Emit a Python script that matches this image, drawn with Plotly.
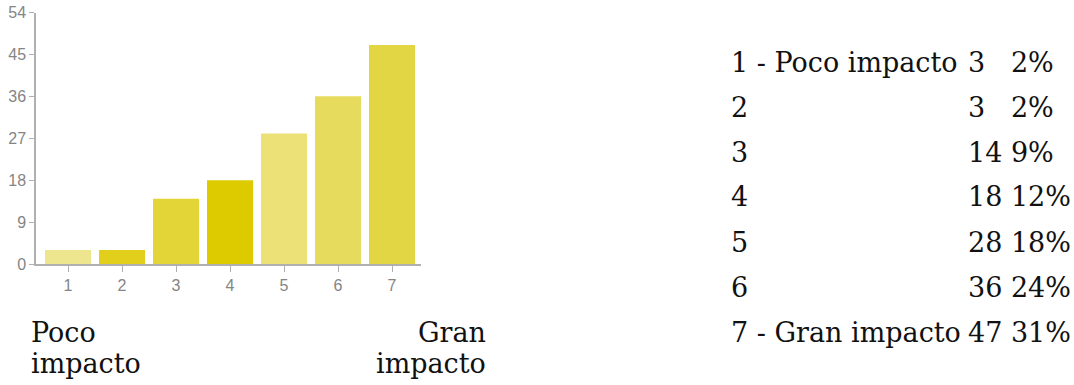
import plotly.graph_objects as go

# Survey responses on a 1-7 impact scale
categories = ["1", "2", "3", "4", "5", "6", "7"]
counts = [3, 3, 14, 18, 28, 36, 47]
percents = ["2%", "2%", "9%", "12%", "18%", "24%", "31%"]
row_labels = ["1 - Poco impacto", "2", "3", "4", "5", "6", "7 - Gran impacto"]
bar_colors = ["#EEE68F", "#E1CF1B", "#E3D538", "#DDCB00", "#EBE176", "#E6DB5C", "#E3D644"]
y_ticks = [0, 9, 18, 27, 36, 45, 54]

W, H = 1074, 385


def px(x):
    return x / W


def py(y):
    return 1 - y / H


fig = go.Figure(
    go.Bar(
        x=[int(c) for c in categories],
        y=counts,
        marker=dict(color=bar_colors, line=dict(width=0)),
        width=0.852,
        hoverinfo="skip",
    )
)

axis_font = dict(family="Liberation Sans, Arial, sans-serif", size=16, color="#858585")

fig.update_layout(
    template="none",
    width=W,
    height=H,
    margin=dict(l=0, r=0, t=0, b=0, pad=0, autoexpand=False),
    paper_bgcolor="white",
    plot_bgcolor="white",
    showlegend=False,
    xaxis=dict(
        domain=[px(36), px(421)],
        range=[0.407, 7.537],
        automargin=False,
        tickmode="array",
        tickvals=[int(c) for c in categories],
        ticktext=categories,
        ticks="outside",
        ticklen=6,
        tickcolor="#b0b0b0",
        showline=True,
        linecolor="#b0b0b0",
        linewidth=1.5,
        showgrid=False,
        zeroline=False,
        tickfont=axis_font,
        fixedrange=True,
    ),
    yaxis=dict(
        domain=[py(264), py(12.5)],
        range=[0, 54],
        automargin=False,
        tickmode="array",
        tickvals=y_ticks,
        ticktext=[str(v) for v in y_ticks],
        ticks="outside",
        ticklen=5,
        tickcolor="#b0b0b0",
        showline=True,
        linecolor="#b0b0b0",
        linewidth=1.5,
        showgrid=False,
        zeroline=False,
        tickfont=axis_font,
        fixedrange=True,
    ),
)

serif = dict(family="DejaVu Serif, serif", size=27, color="#111111")

annotations = []
# Scale end labels under the chart
for text, x, y, anchor in [
    ("Poco", 29, 332, "left"),
    ("impacto", 29, 363, "left"),
    ("Gran", 488, 332, "right"),
    ("impacto", 488, 363, "right"),
]:
    annotations.append(dict(
        text=text, x=px(x), y=py(y), xref="paper", yref="paper",
        xanchor=anchor, yanchor="middle", showarrow=False, font=serif,
    ))

# Frequency table on the right
row_y = [63, 107, 152, 197, 242, 287, 332]
for lbl, n, pct, y in zip(row_labels, counts, percents, row_y):
    annotations.append(dict(
        text=lbl, x=px(729), y=py(y), xref="paper", yref="paper",
        xanchor="left", yanchor="middle", showarrow=False, font=serif,
    ))
    gap = "\u00a0" * 3 if n < 10 else "\u00a0"
    annotations.append(dict(
        text=f"{n}{gap}{pct}", x=px(966), y=py(y), xref="paper", yref="paper",
        xanchor="left", yanchor="middle", showarrow=False, font=serif,
    ))

fig.update_layout(annotations=annotations)

fig.write_html("out.html", config={"displayModeBar": False})
